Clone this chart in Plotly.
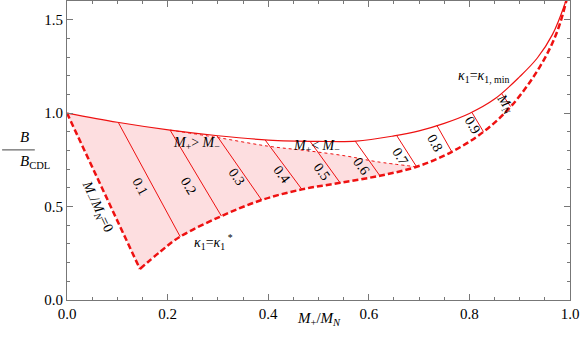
import math
import plotly.graph_objects as go

# upper boundary, kappa1 = kappa1,min (solid)
upper_x = [0.0, 0.1, 0.205, 0.3, 0.4, 0.5, 0.575, 0.65, 0.7, 0.75, 0.8, 0.85, 0.9, 0.935, 0.965, 0.99, 1.0]
upper_y = [1.0, 0.951, 0.909, 0.879, 0.856, 0.849, 0.850, 0.878, 0.905, 0.945, 0.998, 1.075, 1.195, 1.295, 1.42, 1.587, 1.68]

# M-/MN = 0 edge (straight dashed)
edge_x = [0.0, 0.145]
edge_y = [1.0, 0.166]

# lower boundary, kappa1 = kappa1* (dashed)
lower_x = [0.145, 0.185, 0.225, 0.307, 0.387, 0.467, 0.543, 0.622, 0.695, 0.765, 0.828, 0.884, 0.94, 0.973, 0.993, 1.0]
lower_y = [0.166, 0.258, 0.339, 0.449, 0.535, 0.592, 0.627, 0.665, 0.713, 0.793, 0.900, 1.040, 1.248, 1.426, 1.604, 1.70]

# M+ = M- (dotted)
eq_x = [0.205, 0.298, 0.4, 0.48, 0.556, 0.616, 0.695]
eq_y = [0.909, 0.870, 0.823, 0.798, 0.770, 0.740, 0.713]

# contours of M-/MN
c_labels = ["0.1", "0.2", "0.3", "0.4", "0.5", "0.6", "0.7", "0.8", "0.9", "<i>M<sub>N</sub></i>"]
c_top_x = [0.102, 0.205, 0.298, 0.394, 0.483, 0.573, 0.655, 0.735, 0.805, 0.864]
c_top_y = [0.950, 0.909, 0.879, 0.856, 0.850, 0.850, 0.882, 0.936, 1.004, 1.105]
c_bot_x = [0.225, 0.307, 0.387, 0.467, 0.543, 0.622, 0.695, 0.765, 0.828, 0.882]
c_bot_y = [0.339, 0.449, 0.535, 0.592, 0.627, 0.665, 0.713, 0.793, 0.900, 1.035]
lab_x = [0.145, 0.243, 0.337, 0.427, 0.506, 0.586, 0.662, 0.732, 0.807, 0.870]
lab_y = [0.606, 0.610, 0.660, 0.672, 0.686, 0.717, 0.766, 0.838, 0.936, 1.05]

RED = "#ee1111"
SERIF = "Liberation Serif"
W, H = 503, 299  # plot area size in px

fig = go.Figure()

# shaded region
n_up = upper_x.index(0.205)
k = lower_x.index(0.695)
fill_x = upper_x[:n_up] + eq_x + lower_x[:k][::-1] + [edge_x[0]]
fill_y = upper_y[:n_up] + eq_y + lower_y[:k][::-1] + [edge_y[0]]
fig.add_trace(go.Scatter(x=fill_x, y=fill_y, fill="toself", fillcolor="rgba(253,222,224,1)",
                         line=dict(width=0), mode="lines", hoverinfo="skip"))

cx, cy = [], []
for i in range(len(c_labels)):
    cx += [c_top_x[i], c_bot_x[i], None]
    cy += [c_top_y[i], c_bot_y[i], None]
fig.add_trace(go.Scatter(x=cx, y=cy, mode="lines", line=dict(color=RED, width=1)))

fig.add_trace(go.Scatter(x=eq_x, y=eq_y, mode="lines", line=dict(color=RED, width=1, dash="dot", shape="spline")))
fig.add_trace(go.Scatter(x=upper_x, y=upper_y, mode="lines", line=dict(color=RED, width=1.2, shape="spline")))
fig.add_trace(go.Scatter(x=edge_x, y=edge_y, mode="lines", line=dict(color=RED, width=2.5, dash="6px,3px")))
fig.add_trace(go.Scatter(x=lower_x, y=lower_y, mode="lines", line=dict(color=RED, width=2.5, dash="6px,3px", shape="spline")))

tfont = dict(family=SERIF, size=14, color="black")
for i, lab in enumerate(c_labels):
    dx = (c_bot_x[i] - c_top_x[i]) * W
    dy = (c_top_y[i] - c_bot_y[i]) * H / 1.6
    ang = math.degrees(math.atan2(dy, dx))
    fig.add_annotation(x=lab_x[i], y=lab_y[i], text=lab, showarrow=False, textangle=ang, font=tfont)

fig.add_annotation(x=0.059, y=0.499, text="<i>M</i><sub>−</sub>/<i>M<sub>N</sub></i>=0", showarrow=False,
                   textangle=65, font=tfont)
fig.add_annotation(x=0.258, y=0.838, text="<i>M</i><sub>+</sub>&gt; <i>M</i><sub>−</sub>", showarrow=False, font=tfont)
fig.add_annotation(x=0.496, y=0.820, text="<i>M</i><sub>+</sub>&lt; <i>M</i><sub>−</sub>", showarrow=False, font=tfont)
fig.add_annotation(x=0.291, y=0.312, text="<i>κ</i><sub>1</sub>=<i>κ</i><sub>1</sub><sup> *</sup>", showarrow=False, font=tfont)
fig.add_annotation(x=0.828, y=1.194, text="<i>κ</i><sub>1</sub>=<i>κ</i><sub>1, min</sub>", showarrow=False, font=tfont)

# axis titles
afont = dict(family=SERIF, size=15, color="black")
fig.add_annotation(xref="paper", yref="paper", x=0.5, y=-0.1, text="<i>M</i><sub>+</sub>/<i>M<sub>N</sub></i>",
                   showarrow=False, font=afont)
fig.add_annotation(xref="paper", yref="paper", x=-0.097, y=0.545, text="<i>B</i>", showarrow=False, font=afont)
fig.add_annotation(xref="paper", yref="paper", x=-0.097, y=0.462, text="<i>B</i><sub>CDL</sub>", showarrow=False, font=afont)
fig.add_shape(type="line", xref="paper", yref="paper", x0=-0.129, x1=-0.064, y0=0.502, y1=0.502,
              line=dict(color="#444", width=1))

axis = dict(showgrid=False, zeroline=False, showline=True, linecolor="#777", linewidth=1, mirror="ticks",
            ticks="inside", ticklen=6, tickcolor="#777", tickfont=dict(family=SERIF, size=15, color="black"),
            tickformat=".1f", ticklabeloverflow="allow")
fig.update_xaxes(range=[0, 1], dtick=0.2, minor=dict(dtick=0.05, ticks="inside", ticklen=3, tickcolor="#777"), **axis)
fig.update_yaxes(range=[0, 1.6], dtick=0.5, minor=dict(dtick=0.1, ticks="inside", ticklen=3, tickcolor="#777"), **axis)

fig.update_layout(width=581, height=343, margin=dict(l=67, r=11, t=1, b=43), showlegend=False,
                  plot_bgcolor="white", paper_bgcolor="white")

fig.write_html("out.html", config={"displayModeBar": False},
               post_script="document.body.style.margin='0';")
